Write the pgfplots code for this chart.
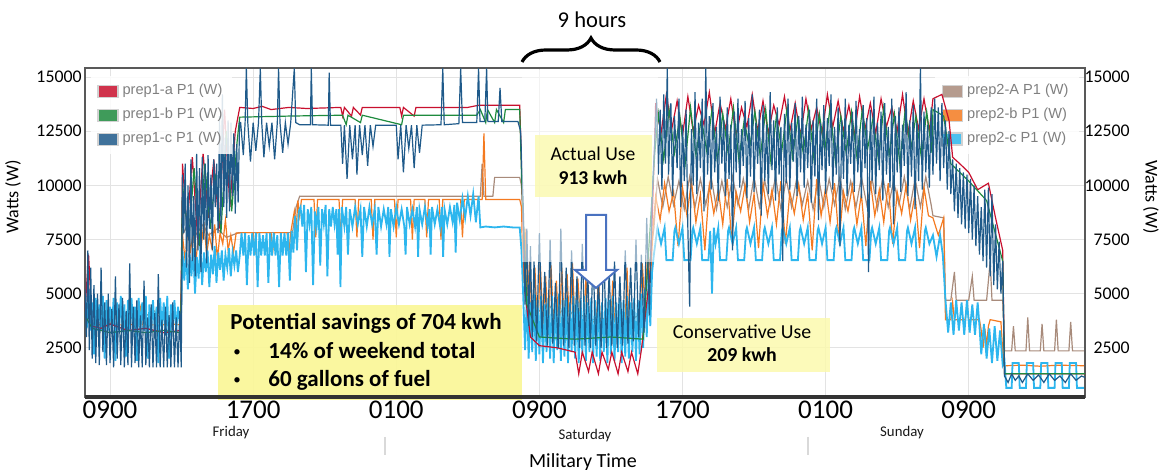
\documentclass[border=0pt]{standalone}
\usepackage{fontspec}
\setmainfont{Carlito}
\newfontfamily\legfont{Liberation Sans}
\usepackage{pgfplots}
\pgfplotsset{compat=1.18}
\usetikzlibrary{decorations.pathreplacing}

\definecolor{pAred}{HTML}{C8102E}
\definecolor{pBgreen}{HTML}{1E8B3E}
\definecolor{pCblue}{HTML}{1F5A8A}
\definecolor{qAbrown}{HTML}{A88B7B}
\definecolor{qBorange}{HTML}{F47A20}
\definecolor{qCcyan}{HTML}{2DB6EE}
\definecolor{hl}{HTML}{FAF79A}
\definecolor{arrowblue}{HTML}{4A72C0}

% shared frame of both overlaid axes (1px of the reference = 0.5pt)
\pgfplotsset{base/.style={
  scale only axis, width=500pt, height=164.5pt,
  xmin=7.6, xmax=63.5, ymin=230, ymax=15420,
  xtick={9,17,25,33,41,49,57},
  ytick={2500,5000,7500,10000,12500,15000},
  yticklabels={2500,5000,7500,10000,12500,15000},
  scaled y ticks=false, scaled x ticks=false,
  major tick length=0pt,
  axis line style={draw=gray!70!black, line width=1pt},
  yticklabel style={font=\fontsize{8.9}{10}\selectfont, inner sep=0pt},
  no markers, legend cell align=left,
  legend style={draw=none, fill=white, fill opacity=0.85, text opacity=1,
    font=\legfont\fontsize{7.3}{8}\selectfont, text=gray, row sep=1.2pt},
}}

\begin{document}
\begin{tikzpicture}
\useasboundingbox (-42.5pt,-36.5pt) rectangle (538.5pt,198.5pt);

% ---- prep2 (right axis) ----
\begin{axis}[base,
  grid=major, grid style={gray!22, line width=.5pt},
  ytick pos=right, yticklabel pos=right,
  yticklabel style={anchor=east, xshift=22.5pt},
  xticklabels={,,,,,,},
  legend image code/.code={\fill[#1,draw=gray!35] (0pt,-3pt) rectangle (10pt,3pt);},
  legend style={at={(axis description cs:1,1)}, anchor=north east, xshift=-3pt, yshift=-4pt},
]
\addplot[qAbrown, line width=.6pt] coordinates {
(7.60,4200)(8.00,3980)(9.00,3980)(9.50,4300)(9.60,3980)(11.00,3980)(11.50,4200)(11.60,3980)(12.95,3980)
(13.05,7700)(13.50,8500)(13.70,7600)(14.20,8200)(14.50,7700)(15.00,8000)(15.50,7600)(16.20,7820)
(16.40,7820)(19.20,7820)(19.40,9000)(19.60,9500)
(19.70,9500)(29.70,9500)(29.80,11000)(29.90,9500)(30.40,9500)(30.50,10370)(31.90,10370)
(32.00,10000)(32.20,6000)(32.50,4500)(33.00,4200)(33.50,4500)(34.00,4000)(34.50,4400)(35.00,3900)(35.50,4000)(36.00,3800)(37.00,3900)(38.00,3800)(38.60,4000)(39.00,5500)(39.40,8000)
(39.60,10300)(39.90,9000)(40.20,10400)(40.50,9100)(40.80,10200)(41.10,8900)(41.40,10400)(41.70,9000)(42.00,10300)(42.30,9100)(42.60,10400)(42.90,8900)(43.20,10200)(43.50,9000)(43.80,10400)(44.10,9100)(44.40,10300)(44.70,8900)(45.00,10400)(45.30,9000)(45.60,10200)(45.90,9100)(46.20,10400)(46.50,8900)(46.80,10300)(47.10,9000)(47.40,10400)(47.70,9100)(48.00,10200)(48.30,8900)(48.60,10400)(48.90,9000)(49.20,10300)(49.50,9100)(49.80,10400)(50.10,8900)(50.40,10200)(50.70,9000)(51.00,10400)(51.30,9100)(51.60,10300)(51.90,8900)(52.20,10400)(52.50,9000)(52.80,10200)(53.10,9100)(53.40,10400)(53.70,8900)(54.00,10300)(54.30,9000)(54.60,10400)(54.90,9100)
(55.00,8600)(55.60,8500)(55.70,4700)(56.00,4700)(56.20,6000)(56.30,4700)(57.00,4700)(57.20,5800)(57.30,4700)(58.00,4700)(58.20,6500)(58.30,4700)(58.90,4700)
(59.00,2360)(59.40,2360)(59.50,3500)(59.60,2360)(60.20,2360)(60.30,3900)(60.40,2360)(61.00,2360)(61.10,3600)(61.20,2360)(61.80,2360)(61.90,3800)(62.00,2360)(62.60,2360)(62.70,3700)(62.80,2360)(63.60,2360)
};
\addlegendentry{prep2-A P1 (W)}
\addplot[qBorange, line width=.6pt] coordinates {
(7.60,3800)(8.00,3600)(8.50,3560)(9.00,3600)(9.30,4200)(9.40,3560)(10.00,3560)(10.60,3600)(10.70,4300)(10.80,3560)(11.50,3560)(11.80,4400)(11.90,3560)(12.50,3600)(12.95,3560)
(13.05,7700)(13.20,6500)(13.35,8000)(13.50,7000)(13.65,7800)(13.80,6400)(13.95,7900)(14.10,7200)(14.25,8300)(14.40,6800)(14.55,7700)(14.70,7100)(14.85,8200)(15.00,6600)(15.15,7800)(15.30,7300)(15.45,8400)(15.60,7000)(15.75,7700)(15.90,6900)(16.05,7800)(16.20,7800)
(16.40,7820)(17.00,7820)(17.10,6800)(17.20,7820)(18.00,7820)(18.10,7000)(18.20,7820)(18.90,7820)(19.00,6900)(19.10,7820)(19.30,8800)(19.40,7900)(19.50,9300)(19.60,8600)(19.70,9350)
(20.00,9350)(20.40,9350)(20.50,7600)(20.60,9350)(21.80,9350)(21.90,7500)(22.00,9350)(22.70,9350)(22.80,7600)(22.90,9350)(23.60,9350)(23.70,7500)(23.80,9350)(24.90,9350)(25.00,7600)(25.10,9350)(25.80,9350)(25.90,7500)(26.00,9350)(26.60,9350)(26.70,7600)(26.80,9350)(27.40,9350)(27.50,7500)(27.60,9350)(28.60,9350)(28.70,7600)(28.80,9350)(29.80,9350)(29.90,12400)(30.00,9350)(31.90,9350)
(32.00,9000)(32.10,5500)(32.20,8000)(32.30,4000)(32.45,6500)(32.60,3500)(32.75,6200)(32.90,3200)(33.05,6400)(33.20,3600)(33.35,5800)(33.50,3100)(33.65,6300)(33.80,3400)(33.95,5600)(34.10,3000)(34.25,6200)(34.40,3500)(34.55,5900)(34.70,3200)(34.85,6400)(35.00,3400)(35.15,5700)(35.30,3700)(35.50,3700)(35.60,5800)(35.70,3700)(36.20,3700)(36.30,6000)(36.40,3700)(37.00,3700)(37.10,5600)(37.20,3700)(37.80,3700)(37.90,6200)(38.00,3700)(38.60,3700)(38.75,6400)(38.90,4500)(39.05,6800)(39.20,5500)(39.35,8000)
(39.50,9500)(39.75,8400)(40.00,10100)(40.25,8800)(40.50,9700)(40.75,7200)(41.00,9900)(41.25,8600)(41.50,10200)(41.75,8300)(42.00,9600)(42.25,7000)(42.50,10000)(42.75,8700)(43.00,9800)(43.25,8200)(43.50,10300)(43.75,7400)(44.00,9700)(44.25,8800)(44.50,10000)(44.75,8300)(45.00,9600)(45.25,7100)(45.50,10100)(45.75,8600)(46.00,9800)(46.25,8200)(46.50,10200)(46.75,7300)(47.00,9700)(47.25,8700)(47.50,10000)(47.75,8400)(48.00,9600)(48.25,7000)(48.50,10300)(48.75,8600)(49.00,9900)(49.25,8300)(49.50,10100)(49.75,7400)(50.00,9700)(50.25,8800)(50.50,10000)(50.75,8200)(51.00,9600)(51.25,7200)(51.50,10200)(51.75,8600)(52.00,9800)(52.25,8300)(52.50,10100)(52.75,7300)(53.00,9700)(53.25,8700)(53.50,10000)(53.75,8400)(54.00,9600)(54.25,7100)(54.50,9900)(54.75,8600)
(55.00,8500)(55.30,7700)(55.60,8500)(55.70,3800)(56.00,3800)(56.10,4600)(56.20,3800)(56.80,3800)(56.90,4500)(57.00,3800)(57.60,3800)(57.70,3300)(57.80,2500)(57.90,3400)(58.00,2600)(58.10,3500)(58.20,3800)(58.80,3700)
(58.95,1670)(60.00,1700)(61.00,1650)(62.00,1700)(63.60,1670)
};
\addlegendentry{prep2-b P1 (W)}
\addplot[qCcyan, line width=.9pt] coordinates {
(7.60,4800)(7.70,3400)(7.80,5200)(7.90,3300)(8.00,4600)(8.10,2200)(8.20,4800)(8.30,3300)(8.40,4500)(8.50,3300)(8.60,4900)(8.70,2000)(8.80,4700)(8.90,3300)(9.00,4400)(9.10,3300)(9.20,4800)(9.30,1900)(9.40,4600)(9.50,3300)(9.60,4900)(9.70,3300)(9.80,4500)(9.90,2100)(10.00,4700)(10.10,3300)(10.20,4800)(10.30,3300)(10.40,4400)(10.50,1900)(10.60,4800)(10.70,3300)(10.80,4600)(10.90,3300)(11.00,4900)(11.10,2000)(11.20,4500)(11.30,3300)(11.40,4700)(11.50,3300)(11.60,4400)(11.70,1800)(11.80,4800)(11.90,3300)(12.00,4600)(12.10,3300)(12.20,4900)(12.30,2000)(12.40,4500)(12.50,3300)(12.60,4700)(12.70,3300)(12.80,4400)(12.95,3300)
(13.05,7000)(13.15,5600)(13.25,6900)(13.35,5200)(13.45,6800)(13.55,5800)(13.65,7100)(13.75,5000)(13.85,6700)(13.95,5700)(14.05,7200)(14.15,5400)(14.25,6900)(14.35,6000)(14.45,7000)(14.55,5300)(14.65,6800)(14.75,5900)(14.85,7200)(14.95,5500)(15.05,6900)(15.15,6100)(15.25,7000)(15.35,5600)(15.45,6800)(15.55,6200)(15.65,7100)(15.75,5800)(15.85,6900)(15.95,6300)(16.05,7000)(16.15,6000)(16.25,6760)
(16.35,7800)(16.45,6760)(16.55,7800)(16.65,5400)(16.75,7700)(16.85,6760)(16.95,7800)(17.05,6760)(17.15,7800)(17.25,5300)(17.35,7800)(17.45,6760)(17.55,7700)(17.65,6760)(17.75,7800)(17.85,5500)(17.95,7800)(18.05,6760)(18.15,7800)(18.25,6760)(18.35,7700)(18.45,5300)(18.55,7800)(18.65,6760)(18.75,7800)(18.85,6760)(18.95,7800)(19.05,5600)(19.15,7900)(19.25,6900)(19.35,8600)(19.45,7000)(19.55,8800)
(19.65,9000)(19.75,8100)(19.85,9100)(19.95,6000)(20.05,8900)(20.15,8200)(20.25,9000)(20.35,5400)(20.45,8800)(20.55,8100)(20.65,9000)(20.75,6300)(20.85,8900)(20.95,8200)(21.05,9100)(21.15,5800)(21.25,8900)(21.35,8100)(21.45,9000)(21.55,8200)(21.65,8900)(21.72,6800)(21.80,8900)(21.88,5300)(21.96,9000)(22.10,8100)(22.20,9000)(22.30,6800)(22.40,8900)(22.55,8100)(22.70,9000)(22.85,8200)(23.00,8900)(23.10,6700)(23.20,9000)(23.35,8100)(23.50,9000)(23.65,8200)(23.80,8900)(23.90,6800)(24.00,9000)(24.15,8100)(24.30,8900)(24.45,8200)(24.55,9000)(24.62,6700)(24.70,8900)(24.85,8100)(25.00,9000)(25.15,8200)(25.30,8900)(25.45,8100)(25.52,6800)(25.60,9000)(25.75,8200)(25.90,8900)(26.05,8100)(26.15,9000)(26.22,6700)(26.30,8900)(26.45,8200)(26.60,9000)(26.75,8100)(26.85,8900)(26.92,6800)(27.00,9000)(27.15,8200)(27.30,8900)(27.45,8100)(27.55,9000)(27.62,6700)(27.70,8900)(27.85,8200)(28.00,9000)(28.15,8300)(28.25,9100)(28.32,6900)(28.40,9200)(28.55,8400)(28.70,9400)(28.85,8500)(29.00,9500)(29.15,8600)(29.30,9600)(29.45,8300)(29.60,9500)(29.70,8060)(30.00,8100)(30.50,8060)(31.00,8100)(31.50,8060)(31.90,8060)
(32.00,7000)(32.10,4800)(32.20,2400)(32.30,4900)(32.40,2000)(32.50,4600)(32.60,2300)(32.70,5000)(32.80,1900)(32.90,4700)(33.00,2200)(33.10,4900)(33.20,1800)(33.30,4500)(33.40,2300)(33.50,4800)(33.60,2000)(33.70,4900)(33.80,1800)(33.90,4600)(34.00,2400)(34.10,5000)(34.20,1900)(34.30,4700)(34.40,2100)(34.50,4800)(34.60,1800)(34.70,4600)(34.80,2300)(34.90,4900)(35.00,2000)(35.10,4700)(35.20,1800)(35.30,4800)(35.40,2200)(35.50,4900)(35.60,1900)(35.70,4600)(35.80,2300)(35.90,4800)(36.00,1800)(36.10,4700)(36.20,2100)(36.30,4900)(36.40,1900)(36.50,4600)(36.60,2300)(36.70,4800)(36.80,1800)(36.90,4700)(37.00,2200)(37.10,4900)(37.20,1900)(37.30,4600)(37.40,2300)(37.50,4800)(37.60,1800)(37.70,4700)(37.80,2100)(37.90,4900)(38.00,2000)(38.10,4600)(38.20,2300)(38.30,4800)(38.40,1900)(38.50,4700)(38.60,2200)(38.70,5000)(38.80,2500)(38.90,5200)(39.00,3000)(39.10,5600)(39.20,3500)(39.30,6000)(39.40,6800)
(39.60,8050)(39.80,7300)(40.00,8050)(40.10,6550)(40.45,6550)(40.55,7900)
(40.60,8050)(40.80,7300)(41.00,8050)(41.10,6550)(41.45,6550)(41.55,7900)
(41.60,8050)(41.80,7300)(42.00,8050)(42.10,6550)(42.45,6550)(42.55,7900)
(42.65,5000)(42.75,8050)(42.85,7300)(43.00,8050)(43.10,6550)(43.45,6550)(43.55,7900)
(43.60,8050)(43.80,7300)(44.00,8050)(44.10,6550)(44.45,6550)(44.55,7900)
(44.60,8050)(44.80,7300)(45.00,8050)(45.10,6550)(45.45,6550)(45.55,7900)
(45.60,8050)(45.80,7300)(46.00,8050)(46.10,6550)(46.45,6550)(46.55,7900)
(46.60,8050)(46.80,7300)(47.00,8050)(47.10,6550)(47.45,6550)(47.55,7900)
(47.60,8050)(47.80,7300)(48.00,8050)(48.10,6550)(48.45,6550)(48.55,7900)
(48.60,8050)(48.80,7300)(49.00,8050)(49.10,6550)(49.45,6550)(49.55,7900)
(49.60,8050)(49.80,7300)(50.00,8050)(50.10,6550)(50.45,6550)(50.55,7900)
(50.60,8050)(50.80,7300)(51.00,8050)(51.10,6550)(51.45,6550)(51.55,7900)
(51.60,8050)(51.80,7300)(52.00,8050)(52.10,6550)(52.45,6550)(52.55,7900)
(52.60,8050)(52.80,7300)(53.00,8050)(53.10,6550)(53.45,6550)(53.55,7900)
(53.60,8050)(53.80,7300)(54.00,8050)(54.10,6550)(54.45,6550)(54.55,7900)
(54.60,8050)(54.80,7300)(55.00,7700)
(55.20,6700)(55.40,7700)(55.55,6800)(55.70,4700)(55.85,3200)(56.00,4600)(56.15,3100)(56.30,4700)(56.45,3300)(56.60,4600)(56.75,3100)(56.90,4700)(57.05,3200)(57.20,4500)(57.35,3100)(57.50,4600)(57.60,3500)(57.70,2200)(57.85,3600)(58.00,2000)(58.15,3400)(58.30,1800)(58.45,3500)(58.60,1900)(58.75,3300)(58.90,1700)
(59.00,1900)(59.10,650)(59.40,650)(59.45,1800)(59.80,1800)(59.85,650)(60.20,650)(60.25,1800)(60.60,1800)(60.65,650)(61.00,650)(61.05,1800)(61.40,1800)(61.45,650)(61.80,650)(61.85,1800)(62.20,1800)(62.25,650)(62.60,650)(62.65,1800)(63.00,1800)(63.05,650)(63.60,650)
};
\addlegendentry{prep2-c P1 (W)}
\end{axis}

% ---- prep1 (left axis) ----
\begin{axis}[base,
  ytick pos=left,
  yticklabel style={anchor=east, xshift=-1.5pt},
  xticklabels={0900,1700,0100,0900,1700,0100,0900},
  xticklabel style={font=\fontsize{13.5}{14}\selectfont, inner sep=0pt, anchor=north, yshift=-2pt},
  legend image code/.code={\fill[#1,draw=gray!35] (0pt,-3pt) rectangle (10pt,3pt);},
  legend style={at={(axis description cs:0,1)}, anchor=north west, xshift=3pt, yshift=-4pt},
]
\addplot[pAred, line width=.6pt] coordinates {
(7.60,4200)(7.80,6800)(8.00,3500)(8.50,3400)(9.00,3600)(10.00,3300)(11.00,3400)(12.00,3200)(12.95,3300)
(13.05,11000)(13.30,8000)(13.60,11300)(13.90,7500)(14.20,11500)(14.50,8500)(14.80,11200)(15.10,8000)(15.40,13500)(15.70,9000)(16.00,12500)(16.25,13600)
(17.00,13550)(17.50,13650)(18.00,13500)(19.00,13600)(20.00,13550)(21.90,13600)(22.00,13200)(22.10,13600)(22.50,13200)(22.60,13600)(23.00,13250)(23.10,13600)(25.20,13600)(25.30,13200)(25.40,13600)(26.00,13200)(26.10,13600)(29.00,13600)(29.60,13700)(31.90,13700)
(32.00,11000)(32.20,5000)(32.50,3000)(33.00,2600)(34.00,2500)(35.00,2300)(35.20,1300)(35.40,2300)(35.75,1400)(35.95,2300)(36.30,1300)(36.50,2300)(36.85,1500)(37.05,2300)(37.40,1300)(37.60,2300)(37.95,1400)(38.15,2300)(38.50,1300)(38.70,2400)(39.20,6000)(39.45,12000)
(39.50,13800)(39.80,12400)(40.10,14200)(40.40,12600)(40.70,13900)(41.00,12300)(41.30,14100)(41.60,12500)(41.90,13700)(42.20,12800)(42.50,14300)(42.80,12400)(43.10,13800)(43.40,12600)(43.70,14000)(44.00,12300)(44.30,13600)(44.60,12700)(44.90,14200)(45.20,12500)(45.50,13900)(45.80,12400)(46.10,13700)(46.40,12800)(46.70,14100)(47.00,12500)(47.30,13800)(47.60,12300)(47.90,14000)(48.20,12600)(48.50,13600)(48.80,12400)(49.10,14200)(49.40,12700)(49.70,13900)(50.00,12500)(50.30,13700)(50.60,12300)(50.90,14100)(51.20,12600)(51.50,13800)(51.80,12400)(52.10,14000)(52.40,12700)(52.70,13600)(53.00,12500)(53.30,14200)(53.60,12400)(53.90,13900)(54.20,12600)(54.50,14000)(54.80,12500)
(55.00,14000)(55.50,14200)(55.90,13000)(56.10,11300)(56.50,11000)(57.00,10600)(57.50,9800)(58.10,10100)(58.50,8500)(58.90,7000)(59.00,1300)(63.60,1300)
};
\addlegendentry{prep1-a P1 (W)}
\addplot[pBgreen, line width=.6pt] coordinates {
(7.60,4000)(8.00,3400)(9.00,3200)(10.00,3300)(11.00,3200)(12.00,3300)(12.95,3200)
(13.05,10000)(13.40,7500)(13.70,10800)(14.00,7200)(14.30,11000)(14.60,8000)(14.90,10500)(15.20,7800)(15.50,12500)(15.80,8800)(16.10,12000)(16.25,13150)
(19.00,13200)(22.00,13240)(22.20,12800)(22.30,13240)(23.00,12900)(23.10,13240)(25.30,12800)(25.40,13240)(29.50,13240)(29.70,13500)(30.00,12900)(30.10,13500)(30.50,12900)(30.60,13500)(31.00,12900)(31.10,13500)(31.90,13500)
(32.00,10500)(32.30,4500)(33.00,3000)(35.00,2900)(37.00,3000)(38.80,2900)(39.45,11500)
(39.65,13300)(39.95,11200)(40.25,13500)(40.55,11500)(40.85,13200)(41.15,11000)(41.45,13600)(41.75,11400)(42.05,13100)(42.35,11600)(42.65,13500)(42.95,11100)(43.25,13300)(43.55,11500)(43.85,13600)(44.15,11200)(44.45,13000)(44.75,11700)(45.05,13400)(45.35,11300)(45.65,13500)(45.95,11000)(46.25,13200)(46.55,11600)(46.85,13600)(47.15,11300)(47.45,13100)(47.75,11500)(48.05,13500)(48.35,11200)(48.65,13300)(48.95,11600)(49.25,13600)(49.55,11100)(49.85,13200)(50.15,11500)(50.45,13400)(50.75,11300)(51.05,13500)(51.35,11700)(51.65,13100)(51.95,11200)(52.25,13600)(52.55,11400)(52.85,13300)(53.15,11000)(53.45,13500)(53.75,11600)(54.05,13200)(54.35,11300)(54.65,13400)(54.95,11500)
(55.00,13500)(55.60,13200)(56.00,11000)(57.00,10200)(58.00,9300)(58.90,6500)(59.00,1300)(63.60,1300)
};
\addlegendentry{prep1-b P1 (W)}
\addplot[pCblue, line width=.6pt] coordinates {
(7.60,5200)(7.68,3000)(7.76,7000)(7.84,2400)(7.92,6200)(8.00,2000)(8.10,5400)(8.20,1800)(8.30,5000)(8.40,1700)(8.50,6200)(8.60,2300)(8.70,4600)(8.80,1700)(8.90,5000)(9.00,1800)(9.10,4300)(9.20,1600)(9.30,5800)(9.40,2000)(9.50,4500)(9.60,1700)(9.70,4800)(9.80,1600)(9.90,4200)(10.00,1700)(10.10,6400)(10.20,1600)(10.30,4400)(10.40,1800)(10.50,4700)(10.60,1600)(10.70,4000)(10.80,1600)(10.90,5600)(11.00,1700)(11.10,3900)(11.20,1600)(11.30,4500)(11.40,1600)(11.50,4100)(11.60,1600)(11.70,5900)(11.80,1600)(11.90,3800)(12.00,1600)(12.10,4400)(12.20,1600)(12.30,4000)(12.40,1600)(12.50,4600)(12.60,1600)(12.70,3900)(12.80,1600)(12.90,4200)(12.98,1600)
(13.05,10500)(13.12,7800)(13.20,11000)(13.28,6200)(13.36,10000)(13.44,5500)(13.52,11200)(13.60,6500)(13.68,9500)(13.76,5800)(13.84,11500)(13.92,7000)(14.00,10800)(14.08,6000)(14.16,11300)(14.24,7500)(14.32,11000)(14.40,6400)(14.48,11400)(14.56,8000)(14.64,10500)(14.72,7000)(14.80,11200)(14.88,9000)(14.96,11000)(15.04,7800)(15.12,13200)(15.20,8200)(15.28,14200)(15.36,9000)(15.44,12200)(15.52,8500)(15.60,13000)(15.68,8800)(15.76,12900)(15.84,9500)(15.92,12400)(16.00,8700)(16.08,11900)(16.16,9200)(16.24,12900)
(16.30,12900)(16.45,11400)(16.55,12900)(16.62,15400)(16.70,12900)(16.85,11100)(17.00,12900)(17.15,11600)(17.30,12900)(17.40,15400)(17.48,12900)(17.60,11300)(17.75,12900)(17.90,11800)(18.05,12900)(18.20,11200)(18.35,12900)(18.42,15400)(18.50,12900)(18.65,11500)(18.80,12900)(18.95,11900)(19.10,12900)(19.30,15400)(19.38,12900)(19.60,12800)(20.20,12800)(20.25,15400)(20.32,12800)(21.20,12780)(21.25,15200)(21.32,12780)(21.90,12780)(22.00,11000)(22.10,12780)(22.25,10300)(22.40,12780)(22.55,11200)(22.70,12780)(22.80,10500)(22.95,12780)(23.10,11400)(23.25,12780)(23.40,10900)(23.55,12780)(23.70,11800)(23.85,12780)(25.00,12780)(25.10,11200)(25.25,12780)(25.40,10600)(25.55,12780)(25.70,11700)(25.85,12780)(26.00,10800)(26.15,12780)(26.30,11500)(26.45,12780)(27.50,12800)(27.60,15400)(27.68,12800)(28.50,12850)(28.60,15400)(28.70,12900)(29.50,12900)(29.60,15400)(29.68,12950)(29.95,12950)(30.05,15400)(30.12,12950)(30.70,12950)(30.80,14500)(30.90,12950)(31.80,12950)(31.95,12500)
(32.10,9000)(32.20,4500)(32.30,8000)(32.40,3500)(32.50,7200)(32.60,3000)(32.70,6500)(32.85,2800)(33.00,7800)(33.15,3000)(33.30,6000)(33.45,2600)(33.60,7500)(33.75,2700)(33.90,5500)(34.05,2500)(34.20,8000)(34.35,2600)(34.50,6200)(34.65,2500)(34.80,7000)(34.95,2600)(35.10,5800)(35.25,2500)(35.40,7300)(35.55,2600)(35.70,6000)(35.85,2500)(36.00,6800)(36.15,2600)(36.30,5600)(36.45,2500)(36.60,7000)(36.75,2500)(36.90,6000)(37.05,2600)(37.20,6500)(37.35,2500)(37.50,5800)(37.65,2600)(37.80,7000)(37.95,2700)(38.10,6200)(38.25,2800)(38.40,7500)(38.55,3000)(38.70,6800)(38.85,3200)(39.00,8500)(39.15,4000)(39.30,9500)
(39.45,12000)(39.55,14000)(39.65,10500)(39.75,13500)(39.85,9800)(39.95,14200)(40.05,11000)(40.15,15400)(40.22,10500)(40.35,13800)(40.45,9500)(40.55,13200)(40.70,10800)(40.80,14000)(40.90,9000)(41.00,12800)(41.10,10200)(41.20,13500)(41.30,8000)(41.40,4400)(41.50,12600)(41.60,10000)(41.70,14300)(41.80,9600)(41.90,12900)(42.00,10800)(42.10,14000)(42.20,8800)(42.30,15400)(42.40,10500)(42.50,13200)(42.60,9800)(42.70,13800)(42.80,10600)(42.90,12700)(43.00,9300)(43.10,14100)(43.20,11000)(43.30,13000)(43.40,9500)(43.50,13600)(43.60,10300)(43.70,12800)(43.80,7000)(43.90,13400)(44.00,10600)(44.10,14000)(44.20,9900)(44.30,12600)(44.40,10900)(44.50,13900)(44.60,9400)(44.70,13100)(44.80,10400)(44.90,14200)(45.00,9700)(45.10,12900)(45.20,11000)(45.30,13500)(45.40,8600)(45.50,13700)(45.60,10200)(45.70,12800)(45.80,9600)(45.90,14300)(46.00,10700)(46.10,13000)(46.20,9300)(46.30,13600)(46.40,10500)(46.50,12700)(46.60,6500)(46.70,13300)(46.80,10100)(46.90,14000)(47.00,9800)(47.10,12900)(47.20,11100)(47.30,13800)(47.40,9500)(47.50,13200)(47.60,10600)(47.70,14100)(47.80,9900)(47.90,12800)(48.00,10800)(48.10,13500)(48.20,9200)(48.30,13000)(48.40,10400)(48.50,14000)(48.60,8400)(48.70,12900)(48.80,10700)(48.90,13700)(49.00,9600)(49.10,13100)(49.20,10900)(49.30,14200)(49.40,9800)(49.50,12700)(49.60,10500)(49.70,13600)(49.80,7200)(49.90,13000)(50.00,10300)(50.10,14000)(50.20,9500)(50.30,12800)(50.40,11000)(50.50,13400)(50.60,9700)(50.70,13900)(50.80,10600)(50.90,12600)(51.00,9400)(51.10,13700)(51.20,10800)(51.30,13100)(51.40,6000)(51.50,13500)(51.60,10200)(51.70,14100)(51.80,9600)(51.90,12900)(52.00,10700)(52.10,13400)(52.20,9300)(52.30,13800)(52.40,10500)(52.50,12700)(52.60,9900)(52.70,14000)(52.80,8200)(52.90,13200)(53.00,10600)(53.10,13600)(53.20,9700)(53.30,12800)(53.40,10900)(53.50,14300)(53.60,9500)(53.70,13000)(53.80,10400)(53.90,13700)(54.00,8900)(54.10,12900)(54.20,10200)(54.30,15400)(54.40,9800)(54.50,13400)(54.60,10600)(54.70,12800)(54.80,9900)(54.90,13600)(55.00,10500)
(55.10,14000)(55.20,11000)(55.30,13600)(55.40,10200)(55.50,13800)(55.60,10800)(55.70,13000)(55.80,9800)(55.90,12500)(56.00,9600)(56.10,11200)(56.20,8800)(56.30,11000)(56.40,8500)(56.50,10800)(56.60,8200)(56.70,10600)(56.80,8000)(56.90,10500)(57.00,7800)(57.10,10300)(57.20,7500)(57.30,10000)(57.40,7200)(57.50,9500)(57.60,6800)(57.70,9000)(57.80,6500)(57.90,9800)(58.00,6200)(58.10,9900)(58.20,5800)(58.30,9600)(58.40,5400)(58.50,8200)(58.60,5200)(58.70,7400)(58.80,5000)(58.90,6500)
(59.00,1200)(59.20,900)(59.40,1300)(59.60,1000)(59.80,1200)(60.00,900)(60.30,1300)(60.60,1000)(60.90,1250)(61.20,900)(61.50,1300)(61.80,1000)(62.10,1200)(62.40,900)(62.70,1300)(63.00,1000)(63.30,1200)(63.60,1100)
};
\addlegendentry{prep1-c P1 (W)}
\end{axis}

% ---- annotations (coordinates in pt from the axis' lower left corner) ----
\fill[white, opacity=0.55] (218.5pt,67.5pt) rectangle (286.5pt,163.5pt);
\fill[hl, opacity=0.95] (66.5pt,-1.5pt) rectangle (218.5pt,46pt);
\draw[gray!40!black, line width=1.6pt] (0pt,0pt) -- (500pt,0pt);
\begin{scope}[font=\bfseries\fontsize{11.5}{12}\selectfont]
\node[anchor=base west, inner sep=0pt] at (72.5pt,33.5pt) {Potential savings of 704 kwh};
\node[anchor=base west, inner sep=0pt, font=\fontsize{7.5}{8}\selectfont] at (74pt,20pt) {•};
\node[anchor=base west, inner sep=0pt] at (91.5pt,19pt) {14\% of weekend total};
\node[anchor=base west, inner sep=0pt, font=\fontsize{7.5}{8}\selectfont] at (74pt,6pt) {•};
\node[anchor=base west, inner sep=0pt] at (91.5pt,5pt) {60 gallons of fuel};
\end{scope}
\fill[hl!80, opacity=0.8] (225pt,100pt) rectangle (283.5pt,131pt);
\node[anchor=base, inner sep=0pt, font=\fontsize{9.8}{10}\selectfont] at (254pt,118pt) {Actual Use};
\node[anchor=base, inner sep=0pt, font=\bfseries\fontsize{9.8}{10}\selectfont] at (254pt,106pt) {913 kwh};
\draw[arrowblue, line width=1pt, fill=white] (250.5pt,91pt) -- (260.5pt,91pt) -- (260.5pt,63.5pt) -- (266pt,63.5pt) -- (255.5pt,54.5pt) -- (245pt,63.5pt) -- (250.5pt,63.5pt) -- cycle;
\fill[hl!80, opacity=0.85] (286pt,12.5pt) rectangle (372.5pt,39.5pt);
\node[anchor=base, inner sep=0pt, font=\fontsize{9.9}{10}\selectfont] at (328.5pt,29pt) {Conservative Use};
\node[anchor=base, inner sep=0pt, font=\bfseries\fontsize{9.9}{10}\selectfont] at (328.5pt,17.5pt) {209 kwh};
% 9 hours brace
\draw[decorate, decoration={brace, amplitude=12pt}, line width=1.6pt] (218.5pt,167.5pt) -- (287.5pt,167.5pt);
\node[font=\fontsize{11.3}{12}\selectfont] at (253.5pt,188.5pt) {9 hours};
% day names and axis titles
\begin{scope}[font=\fontsize{7.4}{8}\selectfont, text=gray!20!black]
\node at (73pt,-18pt) {Friday};
\node at (250pt,-19.5pt) {Saturday};
\node at (408.5pt,-18pt) {Sunday};
\end{scope}
\draw[gray!30, line width=1pt] (150pt,-20pt) -- (150pt,-29pt);
\draw[gray!30, line width=1pt] (361.5pt,-20pt) -- (361.5pt,-29pt);
\node[font=\fontsize{10}{11}\selectfont] at (249pt,-32.5pt) {Military Time};
\node[rotate=90, font=\fontsize{9}{10}\selectfont] at (-36pt,100pt) {Watts (W)};
\node[rotate=-90, font=\fontsize{9}{10}\selectfont] at (533pt,100pt) {Watts (W)};
\end{tikzpicture}
\end{document}
